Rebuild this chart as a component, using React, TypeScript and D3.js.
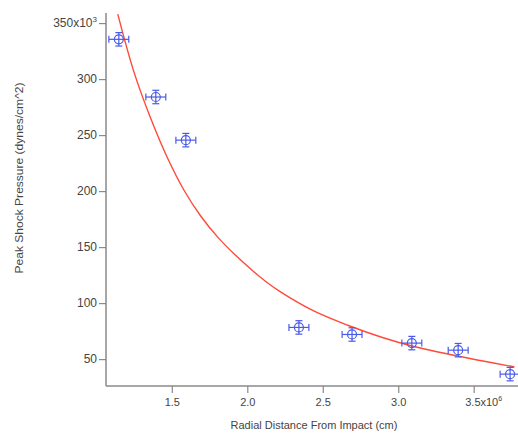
import React, { useEffect, useRef } from 'react';
import * as d3 from 'd3';

// radial distance (x10^6 cm) and peak shock pressure (x10^3 dynes/cm^2)
const distance = [1.149, 1.394, 1.593, 2.342, 2.694, 3.09, 3.397, 3.741];
const pressure = [335.5, 284, 245.5, 78.3, 72, 64.3, 58, 36.6];
const distErr = [0.066, 0.066, 0.066, 0.066, 0.066, 0.066, 0.066, 0.066];
const presErr = [6, 6, 6, 6, 6, 6, 6, 6];

// fit curve
const fitX = [1.142, 1.25, 1.36, 1.47, 1.58, 1.69, 1.81, 1.96, 2.12, 2.22, 2.44, 2.67, 2.89, 3.11, 3.46, 3.77];
const fitY = [358, 306, 265, 230, 201, 178, 158, 138, 119.5, 110, 93, 80, 69.5, 61, 51, 43];

const xTicks = [1.5, 2.0, 2.5, 3.0, 3.5];
const yTicks = [50, 100, 150, 200, 250, 300, 350];

export default function App() {
  const ref = useRef<SVGSVGElement>(null);

  useEffect(() => {
    const width = 518;
    const height = 433;
    const svg = d3.select(ref.current);
    svg.selectAll('*').remove();

    const x = d3.scaleLinear().domain([1.064, 3.8]).range([106, 519]);
    const y = d3.scaleLinear().domain([26, 359]).range([386, 13]);

    const axisColor = '#8a8a8a';
    const textColor = '#444';
    const font = 'Liberation Sans, Arial, sans-serif';

    // y axis
    const yAxis = svg.append('g')
      .attr('transform', 'translate(106,0)')
      .call(d3.axisLeft(y).tickValues(yTicks).tickSize(7).tickSizeOuter(0).tickFormat(d3.format('d')));
    yAxis.select('.domain').attr('stroke', axisColor).attr('stroke-width', 1.5).attr('d', `M0,${y(359)}V${y(26)}`);
    yAxis.selectAll('.tick line').attr('stroke', axisColor).attr('stroke-width', 1.2);
    yAxis.selectAll('.tick text').attr('fill', textColor).attr('font-size', 12).attr('font-family', font).attr('x', -9);
    yAxis.selectAll<SVGTextElement, number>('.tick text').filter(d => d === 350).text(null)
      .call(t => { t.append('tspan').text('350x10'); t.append('tspan').attr('dy', -5).attr('font-size', 8).text('3'); })
      .attr('x', -9);

    // x axis
    const xAxis = svg.append('g')
      .attr('transform', 'translate(0,386)')
      .call(d3.axisBottom(x).tickValues(xTicks).tickSize(7).tickSizeOuter(0).tickFormat(d3.format('.1f')));
    xAxis.select('.domain').attr('stroke', axisColor).attr('stroke-width', 1.5).attr('d', `M${x(1.064)},0H${width}`);
    xAxis.selectAll('.tick line').attr('stroke', axisColor).attr('stroke-width', 1.2);
    xAxis.selectAll('.tick text').attr('fill', textColor).attr('font-size', 11).attr('font-family', font).attr('y', 12);
    xAxis.selectAll<SVGTextElement, number>('.tick text').filter(d => d === 3.5).text(null)
      .call(t => { t.append('tspan').text('3.5x10'); t.append('tspan').attr('dy', -5).attr('font-size', 7).text('6'); })
      .attr('text-anchor', 'start').attr('dx', -9);

    // axis titles
    svg.append('text')
      .attr('x', 314).attr('y', 429)
      .attr('text-anchor', 'middle')
      .attr('font-size', 11).attr('font-family', font).attr('fill', textColor)
      .text('Radial Distance From Impact (cm)');
    svg.append('text')
      .attr('transform', 'translate(23,178) rotate(-90)')
      .attr('text-anchor', 'middle')
      .attr('font-size', 11).attr('font-family', font).attr('fill', textColor)
      .attr('textLength', 191).attr('lengthAdjust', 'spacingAndGlyphs')
      .text('Peak Shock Pressure (dynes/cm^2)');

    // fit curve
    const line = d3.line<number>()
      .x((_, i) => x(fitX[i]))
      .y((_, i) => y(fitY[i]))
      .curve(d3.curveCatmullRom.alpha(0.5));
    svg.append('path')
      .datum(fitX)
      .attr('fill', 'none')
      .attr('stroke', '#ff4a3a')
      .attr('stroke-width', 1.4)
      .attr('d', line);

    // points with error bars
    const blue = '#4a5ae8';
    const pts = svg.append('g').attr('stroke', blue).attr('fill', 'none').attr('stroke-width', 1.2);
    const g = pts.selectAll('g').data(distance).join('g');
    const cap = 3.5;
    g.append('line')
      .attr('x1', (d, i) => x(d - distErr[i])).attr('x2', (d, i) => x(d + distErr[i]))
      .attr('y1', (_, i) => y(pressure[i])).attr('y2', (_, i) => y(pressure[i]));
    g.append('line')
      .attr('x1', d => x(d)).attr('x2', d => x(d))
      .attr('y1', (_, i) => y(pressure[i] - presErr[i])).attr('y2', (_, i) => y(pressure[i] + presErr[i]));
    g.append('line')
      .attr('x1', (d, i) => x(d - distErr[i])).attr('x2', (d, i) => x(d - distErr[i]))
      .attr('y1', (_, i) => y(pressure[i]) - cap).attr('y2', (_, i) => y(pressure[i]) + cap);
    g.append('line')
      .attr('x1', (d, i) => x(d + distErr[i])).attr('x2', (d, i) => x(d + distErr[i]))
      .attr('y1', (_, i) => y(pressure[i]) - cap).attr('y2', (_, i) => y(pressure[i]) + cap);
    g.append('line')
      .attr('x1', d => x(d) - cap).attr('x2', d => x(d) + cap)
      .attr('y1', (_, i) => y(pressure[i] - presErr[i])).attr('y2', (_, i) => y(pressure[i] - presErr[i]));
    g.append('line')
      .attr('x1', d => x(d) - cap).attr('x2', d => x(d) + cap)
      .attr('y1', (_, i) => y(pressure[i] + presErr[i])).attr('y2', (_, i) => y(pressure[i] + presErr[i]));
    g.append('circle')
      .attr('cx', d => x(d))
      .attr('cy', (_, i) => y(pressure[i]))
      .attr('r', 4.5);

    svg.attr('width', width).attr('height', height);
  }, []);

  return (
    <svg ref={ref} width={518} height={433}
      style={{ position: 'absolute', left: 0, top: 0, background: '#fff' }} />
  );
}
